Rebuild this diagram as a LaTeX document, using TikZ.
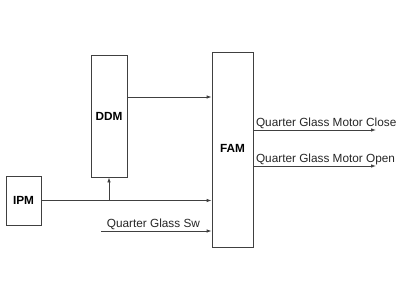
\documentclass[tikz,border=0pt]{standalone}
\usepackage{fontspec}
\setmainfont{Liberation Sans}
\usetikzlibrary{arrows.meta}
\begin{document}
\begin{tikzpicture}[x=1pt,y=-1pt,
  box/.style={draw=black!75,line width=0.8pt,minimum width=#1,inner sep=0pt,font=\bfseries\fontsize{11.8}{13}\selectfont},
  conn/.style={draw=black!75,line width=0.8pt,-{Latex[length=5pt,width=3.5pt]}},
  lbl/.style={font=\fontsize{11.8}{13}\selectfont,inner sep=1pt,text=black!85}]
\useasboundingbox (0,0) rectangle (402,303);
\node[box=36pt,minimum height=122pt] (DDM) at (109,116) {DDM};
\node[box=35pt,minimum height=49pt] (IPM) at (23.5,200.5) {IPM};
\node[box=41pt,minimum height=195pt] (FAM) at (232.5,149.5) {};
\node[font=\bfseries\fontsize{11.8}{13}\selectfont] (FAMl) at (232.5,148) {FAM};
\coordinate (ddmout) at (127,97);
\coordinate (sw) at (101,231);
\coordinate (closeend) at (376,130);
\coordinate (openend) at (376,166);
\draw[conn] (ddmout) -- (ddmout -| FAM.west);
\draw[conn] (IPM.east) -- (IPM.east -| FAM.west);
\draw[conn] (IPM.east -| DDM.south) -- (DDM.south);
\draw[conn] (sw) -- (sw -| FAM.west) node[lbl,pos=0.04,anchor=south west] (swl) {Quarter Glass Sw};
\draw[conn] (FAM.east |- closeend) -- (closeend) node[lbl,pos=0.01,anchor=south west] (cl) {Quarter Glass Motor Close};
\draw[conn] (FAM.east |- openend) -- (openend) node[lbl,pos=0.01,anchor=south west] (op) {Quarter Glass Motor Open};
\end{tikzpicture}
\end{document}
